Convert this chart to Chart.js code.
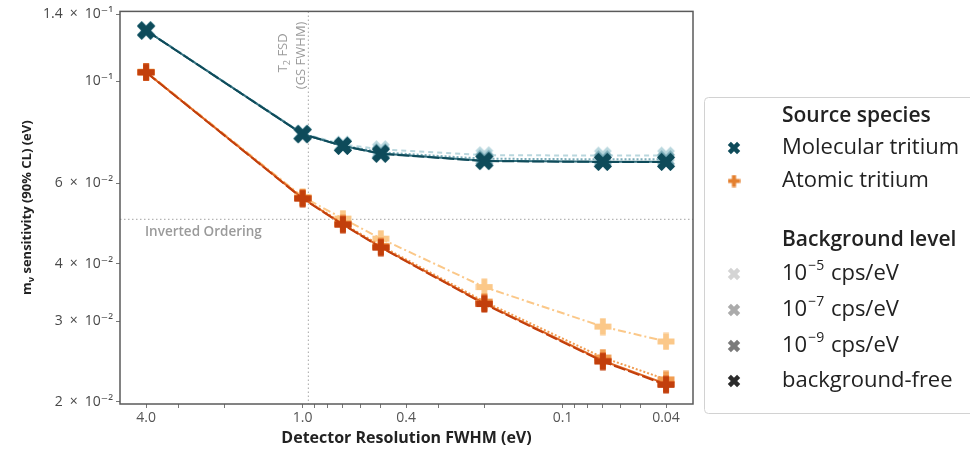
<!DOCTYPE html>
<html lang="en">
<head>
  <meta charset="UTF-8">
  <title>Neutrino mass sensitivity vs detector resolution</title>
  <style>
    html, body { margin: 0; padding: 0; background: #fff; }
    #wrap { width: 970px; height: 451px; position: relative; }
  </style>
</head>
<body>
  <div id="wrap"><canvas id="sens"></canvas></div>

  <script src="https://cdn.jsdelivr.net/npm/chart.js@4"></script>
  <script>
    // detector resolution FWHM (eV)
    const resolution = [4.0, 1.0, 0.7, 0.5, 0.2, 0.07, 0.04];

    // m_nu sensitivity (eV), molecular tritium source
    const molBg5 = [0.1293, 0.0770, 0.0728, 0.0711, 0.0690, 0.0689, 0.0689];
    const molBg7 = [0.1291, 0.0768, 0.0725, 0.0700, 0.0678, 0.0676, 0.0676];
    const molBg9 = [0.1290, 0.0767, 0.0723, 0.0696, 0.0671, 0.0668, 0.0668];
    const molFree = [0.1290, 0.0767, 0.0723, 0.0695, 0.0670, 0.0667, 0.0667];

    // m_nu sensitivity (eV), atomic tritium source
    const atoBg5 = [0.1050, 0.0560, 0.0502, 0.0454, 0.0356, 0.0292, 0.0271];
    const atoBg7 = [0.1047, 0.0557, 0.0490, 0.0438, 0.0331, 0.0250, 0.0224];
    const atoBg9 = [0.1046, 0.0556, 0.0488, 0.0435, 0.0328, 0.0246, 0.0219];
    const atoFree = [0.1046, 0.0555, 0.0487, 0.0434, 0.0327, 0.0245, 0.0218];

    const bgLevels = ['−5', '−7', '−9', 'free'];

    const xTicks = [4, 3, 2, 1, 0.9, 0.8, 0.7, 0.6, 0.5, 0.4, 0.3, 0.2, 0.1, 0.09, 0.08, 0.07, 0.06, 0.05, 0.04];
    const xMajor = [4, 1, 0.4, 0.1, 0.04];
    const xMajorLabels = ['4.0', '1.0', '0.4', '0.1', '0.04'];

    const yTicks = [0.02, 0.03, 0.04, 0.06, 0.1, 0.14];
    const yTickLabels = ['2\u2002×\u200210⁻²', '3\u2002×\u200210⁻²', '4\u2002×\u200210⁻²', '6\u2002×\u200210⁻²', '10⁻¹', '1.4\u2002×\u200210⁻¹'];

    const fsdLine = 0.95;      // T2 final-state distribution width
    const invertedLine = 0.05; // inverted ordering lower bound

    const FONT = '"Open Sans", "DejaVu Sans", sans-serif';

    // thick filled plus; rotated 45 degrees gives the X marker
    function makeMarker(color, diagonal, size) {
      const c = document.createElement('canvas');
      c.width = c.height = size;
      const g = c.getContext('2d');
      const a = size * 0.47, b = size * 0.16;
      g.translate(size / 2, size / 2);
      if (diagonal) g.rotate(Math.PI / 4);
      g.beginPath();
      g.moveTo(-b, -a); g.lineTo(b, -a); g.lineTo(b, -b); g.lineTo(a, -b);
      g.lineTo(a, b); g.lineTo(b, b); g.lineTo(b, a); g.lineTo(-b, a);
      g.lineTo(-b, b); g.lineTo(-a, b); g.lineTo(-a, -b); g.lineTo(-b, -b);
      g.closePath();
      g.fillStyle = color;
      g.fill();
      return c;
    }

    const molColors = ['#b9d7de', '#7cadb9', '#336f7e', '#0e4b5a'];
    const atoColors = ['#fbc889', '#f19d52', '#dd6424', '#c23f0c'];
    const molDashes = [[5, 4], [2, 2], [], [12, 3]];
    const atoDashes = [[8, 3, 2, 3], [2, 2], [], [12, 3]];

    function series(values, color, dash, diagonal) {
      return {
        data: resolution.map((r, i) => ({ x: r, y: values[i] })),
        borderColor: color,
        borderWidth: 2,
        borderDash: dash,
        pointStyle: makeMarker(color, diagonal, diagonal ? 20 : 18),
        pointRadius: 9,
        fill: false,
        tension: 0
      };
    }

    // first dataset ends up on top
    const datasets = [
      series(molFree, molColors[3], molDashes[3], true),
      series(molBg9, molColors[2], molDashes[2], true),
      series(molBg7, molColors[1], molDashes[1], true),
      series(molBg5, molColors[0], molDashes[0], true),
      series(atoFree, atoColors[3], atoDashes[3], false),
      series(atoBg9, atoColors[2], atoDashes[2], false),
      series(atoBg7, atoColors[1], atoDashes[1], false),
      series(atoBg5, atoColors[0], atoDashes[0], false)
    ];

    function near(a, b) { return Math.abs(a - b) < 1e-9; }

    // frame, reference lines and hand-drawn labels
    const decorations = {
      id: 'decorations',
      beforeDatasetsDraw(chart) {
        const { ctx, chartArea: ca, scales: { x, y } } = chart;
        ctx.save();
        ctx.strokeStyle = '#b5b5b5';
        ctx.lineWidth = 1.2;
        ctx.setLineDash([1.5, 2.5]);
        const px = x.getPixelForValue(fsdLine);
        const py = y.getPixelForValue(invertedLine);
        ctx.beginPath();
        ctx.moveTo(px, ca.top); ctx.lineTo(px, ca.bottom);
        ctx.moveTo(ca.left, py); ctx.lineTo(ca.right, py);
        ctx.stroke();
        ctx.setLineDash([]);

        ctx.fillStyle = '#9a9a9a';
        ctx.font = '600 13.5px ' + FONT;
        ctx.textAlign = 'left';
        ctx.textBaseline = 'middle';
        ctx.fillText('Inverted Ordering', ca.left + 25, py + 13);

        ctx.translate(px - 1, ca.top + 44);
        ctx.rotate(-Math.PI / 2);
        ctx.font = '13px ' + FONT;
        ctx.textAlign = 'center';
        ctx.textBaseline = 'bottom';
        ctx.fillText('(GS FWHM)', 0, 0);
        const w1 = ctx.measureText('T FSD').width;
        ctx.textAlign = 'left';
        const tW = ctx.measureText('T').width;
        ctx.fillText('T', -w1 / 2, -18);
        ctx.font = '9px ' + FONT;
        const sW = ctx.measureText('2').width;
        ctx.fillText('2', -w1 / 2 + tW, -15);
        ctx.font = '13px ' + FONT;
        ctx.fillText(' FSD', -w1 / 2 + tW + sW, -18);
        ctx.restore();
      },
      afterDraw(chart) {
        const { ctx, chartArea: ca } = chart;
        ctx.save();
        ctx.strokeStyle = '#5a5a5a';
        ctx.lineWidth = 1.5;
        ctx.strokeRect(ca.left, ca.top, ca.right - ca.left, ca.bottom - ca.top);

        // y axis title with subscript nu
        ctx.translate(27, (ca.top + ca.bottom) / 2);
        ctx.rotate(-Math.PI / 2);
        ctx.fillStyle = '#222';
        ctx.textBaseline = 'middle';
        ctx.textAlign = 'left';
        const big = 'bold 13px ' + FONT, small = 'bold 9px ' + FONT;
        const rest = ' sensitivity (90% CL) (eV)';
        ctx.font = big;
        const wm = ctx.measureText('m').width, wr = ctx.measureText(rest).width;
        ctx.font = small;
        const wn = ctx.measureText('ν').width;
        let x0 = -(wm + wn + wr) / 2;
        ctx.font = big; ctx.fillText('m', x0, 0); x0 += wm;
        ctx.font = small; ctx.fillText('ν', x0, 4); x0 += wn;
        ctx.font = big; ctx.fillText(rest, x0, 0);
        ctx.restore();

        drawLegend(ctx);
      }
    };

    function drawLegend(ctx) {
      ctx.save();
      ctx.strokeStyle = '#d2d2d2';
      ctx.lineWidth = 1;
      ctx.beginPath();
      ctx.roundRect(704.5, 97.5, 300, 316, 4);
      ctx.stroke();

      const tx = 782, mx = 734;
      ctx.fillStyle = '#222';
      ctx.textBaseline = 'middle';
      ctx.textAlign = 'left';
      const reg = '22px ' + FONT, bold = '600 21px ' + FONT;

      ctx.font = bold;
      ctx.fillText('Source species', tx, 116);
      ctx.font = reg;
      ctx.fillText('Molecular tritium', tx, 148);
      ctx.fillText('Atomic tritium', tx, 181);
      ctx.drawImage(makeMarker(molColors[3], true, 14), mx - 7, 148 - 7);
      ctx.drawImage(makeMarker('#e4802f', false, 13), mx - 6.5, 181 - 6.5);

      ctx.font = bold;
      ctx.fillText('Background level', tx, 240);

      const grays = ['#d4d4d4', '#ababab', '#7b7b7b', '#2b2b2b'];
      const rows = [274, 310, 346, 381];
      bgLevels.forEach((lvl, i) => {
        const yy = rows[i];
        ctx.drawImage(makeMarker(grays[i], true, 14), mx - 7, yy - 7);
        ctx.font = reg;
        if (lvl === 'free') {
          ctx.fillText('background-free', tx, yy);
          return;
        }
        ctx.fillText('10', tx, yy);
        let x1 = tx + ctx.measureText('10').width;
        ctx.font = '14px ' + FONT;
        ctx.fillText(lvl, x1 + 1, yy - 8);
        x1 += ctx.measureText(lvl).width + 2;
        ctx.font = reg;
        ctx.fillText(' cps/eV', x1, yy);
      });
      ctx.restore();
    }

    const tickFont = { family: FONT, size: 14 };

    new Chart(document.getElementById('sens'), {
      type: 'line',
      data: { datasets },
      plugins: [decorations],
      options: {
        responsive: true,
        maintainAspectRatio: false,
        animation: false,
        layout: { padding: { top: 10, right: 277, left: 0, bottom: 0 } },
        plugins: { legend: { display: false }, tooltip: { enabled: false } },
        scales: {
          x: {
            type: 'logarithmic',
            reverse: true,
            min: 0.0315,
            max: 5.04,
            afterBuildTicks: s => { s.ticks = xTicks.map(v => ({ value: v })); },
            afterFit: s => { s.height = 47; },
            border: { display: false },
            grid: { drawOnChartArea: false, drawTicks: true, tickLength: 4, color: '#777', lineWidth: 1 },
            ticks: {
              autoSkip: false,
              maxRotation: 0,
              padding: 2,
              color: '#555',
              font: tickFont,
              callback: v => {
                const i = xMajor.findIndex(m => near(m, v));
                return i < 0 ? '' : xMajorLabels[i];
              }
            },
            title: {
              display: true,
              text: 'Detector Resolution FWHM (eV)',
              color: '#222',
              font: { family: FONT, size: 16, weight: 'bold' },
              padding: { top: 0, bottom: 3 }
            }
          },
          y: {
            type: 'logarithmic',
            min: 0.0198,
            max: 0.142,
            afterBuildTicks: s => { s.ticks = yTicks.map(v => ({ value: v })); },
            afterFit: s => { s.width = 120; },
            border: { display: false },
            grid: { drawOnChartArea: false, drawTicks: true, tickLength: 4, color: '#777', lineWidth: 1 },
            ticks: {
              autoSkip: false,
              padding: 3,
              color: '#484848',
              font: tickFont,
              callback: v => {
                const i = yTicks.findIndex(m => near(m, v));
                return i < 0 ? '' : yTickLabels[i];
              }
            }
          }
        }
      }
    });
  </script>
</body>
</html>
